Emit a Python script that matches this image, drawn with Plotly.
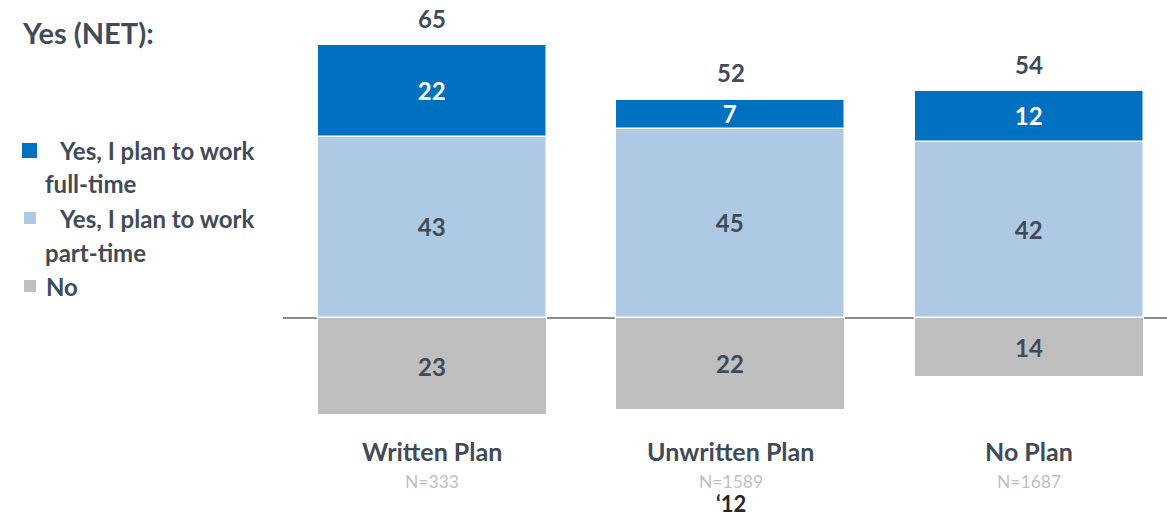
import plotly.graph_objects as go

categories = ["Written Plan", "Unwritten Plan", "No Plan"]
sample_sizes = ["N=333", "N=1589", "N=1687"]
full_time = [22, 7, 12]
part_time = [43, 45, 42]
no_vals = [23, 22, 14]
net_yes = [65, 52, 54]
year_label = "\u201812"

C_FULL = "#0070C0"
C_PART = "#AEC9E4"
C_NO = "#BFBFBF"
C_TEXT = "#414B58"
FONT = "Lato"

W, H = 1167, 516
ML = 283
PW = W - ML

def px_x(p):
    return (p - ML) / PW

def px_y(p):
    return 1 - p / H

fig = go.Figure()
x_idx = list(range(len(categories)))
LBL = 24

fig.add_trace(go.Bar(
    x=x_idx, y=[-v for v in no_vals], text=[str(v) for v in no_vals],
    marker=dict(color=C_NO, line=dict(color="white", width=1)),
    textposition="inside", insidetextanchor="middle", textangle=0,
    textfont=dict(color=C_TEXT, size=LBL, family=FONT, weight="bold"),
    width=0.767, name="No", hoverinfo="skip"))
fig.add_trace(go.Bar(
    x=x_idx, y=part_time, text=[str(v) for v in part_time],
    marker=dict(color=C_PART, line=dict(color="white", width=1.5)),
    textposition="inside", insidetextanchor="middle", textangle=0,
    textfont=dict(color=C_TEXT, size=LBL, family=FONT, weight="bold"),
    width=0.767, name="part-time", hoverinfo="skip"))
fig.add_trace(go.Bar(
    x=x_idx, y=full_time, text=[str(v) for v in full_time],
    marker=dict(color=C_FULL, line=dict(color="white", width=1.5)),
    textposition="inside", insidetextanchor="middle", textangle=0,
    textfont=dict(color="white", size=LBL, family=FONT, weight="bold"),
    width=0.767, name="full-time", hoverinfo="skip"))

annotations = []
for i, t in enumerate(net_yes):
    annotations.append(dict(x=i, y=t, xref="x", yref="y", text=str(t),
                            showarrow=False, yanchor="middle", yshift=27,
                            font=dict(size=LBL, color=C_TEXT, family=FONT, weight="bold")))
for i, c in enumerate(categories):
    annotations.append(dict(x=i, y=px_y(451), xref="x", yref="paper", text=c,
                            showarrow=False, yanchor="middle",
                            font=dict(size=25, color=C_TEXT, family=FONT, weight="bold")))
    annotations.append(dict(x=i, y=px_y(481), xref="x", yref="paper", text=sample_sizes[i],
                            showarrow=False, yanchor="middle",
                            font=dict(size=17.5, color="#BFBFBF", family=FONT)))
annotations.append(dict(x=1, y=px_y(503), xref="x", yref="paper", text=year_label,
                        showarrow=False, yanchor="middle",
                        font=dict(size=22, color="#262626", family=FONT, weight="bold")))
annotations.append(dict(x=px_x(20), y=px_y(32), xref="paper", yref="paper", text="Yes (NET):",
                        showarrow=False, xanchor="left", yanchor="middle",
                        font=dict(size=29, color=C_TEXT, family=FONT, weight="bold")))

legend_lines = [
    ("Yes, I plan to work", 57, 150),
    ("full-time", 43, 184),
    ("Yes, I plan to work", 57, 218),
    ("part-time", 43, 252),
    ("No", 44, 286),
]
for txt, lx, ly in legend_lines:
    annotations.append(dict(x=px_x(lx), y=px_y(ly), xref="paper", yref="paper", text=txt,
                            showarrow=False, xanchor="left", yanchor="middle",
                            font=dict(size=24, color=C_TEXT, family=FONT, weight="bold")))

shapes = []
for col, x0, x1, y0, y1 in [(C_FULL, 22, 37, 143, 158), (C_PART, 24, 36, 212, 224), (C_NO, 24, 36, 280, 292)]:
    shapes.append(dict(type="rect", xref="paper", yref="paper",
                       x0=px_x(x0), x1=px_x(x1), y0=px_y(y1), y1=px_y(y0),
                       fillcolor=col, line=dict(width=0)))

scale = 4.2
baseline = 318
fig.update_layout(
    width=W, height=H,
    margin=dict(l=ML, r=0, t=0, b=0),
    barmode="relative", bargap=0,
    plot_bgcolor="white", paper_bgcolor="white",
    showlegend=False,
    xaxis=dict(range=[-0.5, -0.5 + PW / 298.5], showticklabels=False, showgrid=False,
               zeroline=False, showline=False, ticks=""),
    yaxis=dict(range=[-(H - baseline) / scale, baseline / scale], showticklabels=False,
               showgrid=False, zeroline=True, zerolinecolor="#8C8C8C", zerolinewidth=2,
               showline=False, ticks=""),
    uniformtext=dict(minsize=LBL, mode="show"),
    annotations=annotations, shapes=shapes,
)

fig.write_html("out.html", config={"displayModeBar": False},
               post_script="document.body.style.margin='0';document.body.style.overflow='hidden';")
